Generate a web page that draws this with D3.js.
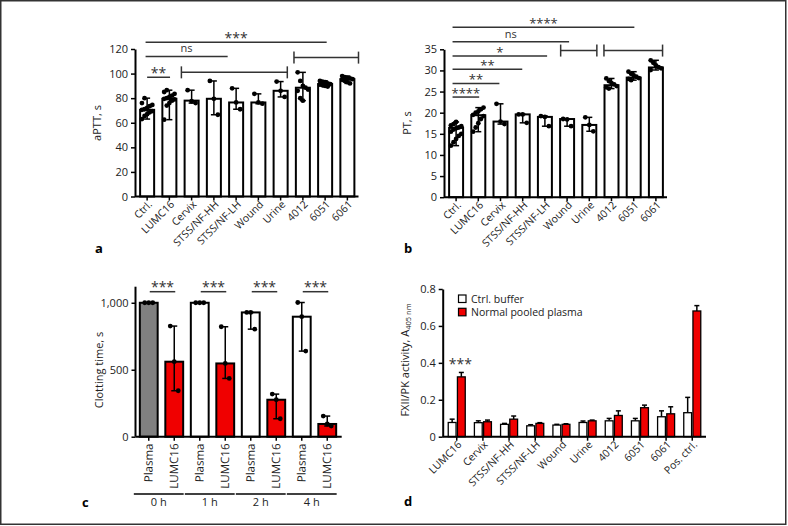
<!DOCTYPE html>
<html><head><meta charset="utf-8">
<script src="https://cdn.jsdelivr.net/npm/d3@7"></script>
<style>
body{margin:0;background:#fff;}
svg{display:block;font-family:"Open Sans",sans-serif;}
</style></head><body>
<svg id="fig" width="788" height="526"></svg>
<script>
// ---------- DATA ----------
const catsAB = ["Ctrl.","LUMC16","Cervix","STSS/NF-HH","STSS/NF-LH","Wound","Urine","4012","6051","6061"];
const apttMedian = [70.5, 79.5, 78, 79.5, 76.5, 76.5, 86, 88.5, 91.5, 95.5];
const apttPoints = [
  [63, 65.5, 67, 68.5, 69.5, 70.5, 71, 72, 73.5, 74.5, 76, 80],
  [62.5, 74, 76, 78, 79, 79.5, 80, 81, 82, 83.5, 85, 86.5],
  [86.5, 77.5, 76],
  [94, 79.5, 66.5],
  [88, 76.5, 71],
  [83.5, 76.5, 75.5],
  [93.5, 86, 81],
  [101, 94, 90, 88.5, 87, 86, 80, 78],
  [94, 93.5, 93, 92, 91.5, 91, 90.5, 90, 89.5],
  [98, 97, 96.5, 96, 95.5, 95, 94, 93, 92]
];
const apttTicks = [0, 20, 40, 60, 80, 100, 120];

const ptMedian = [16.4, 19.4, 17.9, 19.6, 19.0, 18.5, 17.1, 26.5, 28.3, 30.7];
const ptPoints = [
  [12.2, 13, 13.8, 14.5, 15, 15.5, 16, 16.3, 16.5, 16.8, 17, 17.3, 17.8],
  [15.5, 16.5, 17.5, 18.5, 19.2, 19.5, 20, 20.3, 20.8, 21.2],
  [22.1, 17.9, 17.3],
  [19.6, 19.6, 17.6],
  [19.2, 19.0, 16.8],
  [18.5, 18.4, 16.8],
  [18.9, 17.1, 15.6],
  [28.1, 27.5, 27, 26.7, 26.3, 26, 25.7],
  [29.7, 29.2, 28.8, 28.5, 28.2, 28, 27.7],
  [32.4, 31.8, 31.2, 30.8, 30.5, 30.1]
];
const ptTicks = [0, 5, 10, 15, 20, 25, 30, 35];

const clotCats = ["Plasma","LUMC16","Plasma","LUMC16","Plasma","LUMC16","Plasma","LUMC16"];
const clotGroups = ["0 h","1 h","2 h","4 h"];
const clotMedian = [1000, 560, 1000, 547, 928, 276, 896, 95];
const clotPoints = [
  [1000,1000,1000],[826,560,343],[1000,1000,1000],[821,547,435],
  [928,928,803],[318,276,134],[1002,896,639],[154,95,80]
];
const clotTicks = [0, 500, 1000];

const dCats = ["LUMC16","Cervix","STSS/NF-HH","STSS/NF-LH","Wound","Urine","4012","6051","6061","Pos. ctrl."];
const dSeries = ["Ctrl. buffer","Normal pooled plasma"];
const bufferMean = [0.077,0.076,0.067,0.059,0.063,0.077,0.086,0.086,0.108,0.130];
const bufferSD   = [0.018,0.010,0.005,0.006,0.004,0.008,0.013,0.013,0.032,0.083];
const plasmaMean = [0.324,0.081,0.095,0.072,0.067,0.086,0.115,0.157,0.124,0.681];
const plasmaSD   = [0.024,0.009,0.017,0.004,0.003,0.004,0.025,0.014,0.038,0.029];
const dTicks = [0, 0.2, 0.4, 0.6, 0.8];

// ---------- HELPERS ----------
const svg = d3.select("#fig");
const RED = "#f00000";
const TXT = "#222";
svg.append("rect").attr("x",0.75).attr("y",0.75).attr("width",785).attr("height",523.5)
  .attr("fill","none").attr("stroke","#333").attr("stroke-width",1.5);

function styleAxis(g, fs){
  g.select(".domain").attr("stroke","#000").attr("stroke-width",2);
  g.selectAll(".tick line").attr("stroke","#000").attr("stroke-width",1.5);
  g.selectAll(".tick text").attr("font-size",fs).attr("fill",TXT).attr("font-family","Open Sans");
}

function jitter(i, n){ // deterministic spread of points around the centre
  if (n <= 3) return (i - (n-1)/2) * 4;
  return ((i % 5) - 2) * 2.6;
}

function sigLine(g, x1, x2, y, label, caps, fs){
  g.append("line").attr("x1",x1).attr("x2",x2).attr("y1",y).attr("y2",y)
    .attr("stroke","#333").attr("stroke-width",1.5);
  if (caps){
    [x1,x2].forEach(x=>g.append("line").attr("x1",x).attr("x2",x).attr("y1",y-6).attr("y2",y+6)
      .attr("stroke","#333").attr("stroke-width",1.5));
  }
  if (label){
    const star = label.indexOf("*")>=0;
    g.append("text").attr("x",(x1+x2)/2).attr("y", star ? y+0.5 : y-4)
      .attr("text-anchor","middle").attr("font-size", star?(fs||14):11).attr("fill","#333").text(label);
  }
}

function rotatedLabels(g, cats, xs, y0, angle, fs, dx){
  cats.forEach((c,i)=>{
    const px = xs(i)+dx;
    g.append("g").attr("transform",`translate(${px},${y0}) rotate(${angle})`)
      .append("text").attr("x",0).attr("y",0)
      .attr("text-anchor","end").attr("dy","0.35em").attr("font-size",fs).attr("fill",TXT).text(c);
  });
}

function dotPanel(opt){
  const g = svg.append("g");
  const x = d3.scaleBand().domain(d3.range(opt.cats.length)).range(opt.xr).paddingInner(0.28).paddingOuter(0.14);
  const y = d3.scaleLinear().domain(opt.yd).range(opt.yr);
  g.selectAll("rect.bar").data(opt.median).join("rect")
    .attr("x",(d,i)=>x(i)+1).attr("width",x.bandwidth()-2)
    .attr("y",d=>y(d)).attr("height",d=>y(0)-y(d))
    .attr("fill","#fff").attr("stroke","#000").attr("stroke-width",2);
  opt.points.forEach((pts,i)=>{
    const cx = x(i)+x.bandwidth()/2;
    const lo = d3.min(pts), hi = d3.max(pts);
    g.append("line").attr("x1",cx).attr("x2",cx).attr("y1",y(lo)).attr("y2",y(hi)).attr("stroke","#000").attr("stroke-width",1.5);
    [lo,hi].forEach(v=>g.append("line").attr("x1",cx-3).attr("x2",cx+3).attr("y1",y(v)).attr("y2",y(v)).attr("stroke","#000").attr("stroke-width",1.5));
    pts.forEach((v,j)=>g.append("circle").attr("cx",cx+jitter(j,pts.length)).attr("cy",y(v)).attr("r",2.4).attr("fill","#000"));
  });
  const ya = g.append("g").attr("transform",`translate(${opt.xr[0]-1},0)`)
    .call(d3.axisLeft(y).tickValues(opt.ticks).tickSize(4).tickSizeOuter(0).tickPadding(3));
  styleAxis(ya, 11);
  const xa = g.append("g").attr("transform",`translate(0,${opt.yr[0]})`)
    .call(d3.axisBottom(x).tickSize(4).tickSizeOuter(0).tickFormat(""));
  xa.select(".domain").attr("d",`M${opt.xr[0]-1},0H${opt.xr[1]}`);
  styleAxis(xa, 10.5);
  rotatedLabels(g, opt.cats, i=>x(i)+x.bandwidth()/2, opt.yr[0]+6, -45, 10.5, 3);
  g.append("text").attr("transform",`translate(${opt.ylx},${opt.yly}) rotate(-90)`)
    .attr("text-anchor","middle").attr("font-size",11).attr("fill",TXT).text(opt.ylabel);
  const cx = i => x(0)+x.bandwidth()/2 + i*x.step();
  opt.sig.forEach(s=> sigLine(g, cx(s.a), cx(s.b), y(s.lvl), s.label, s.caps, opt.starSize));
  g.append("text").attr("x",opt.lx).attr("y",opt.ly).attr("font-size",13).attr("font-weight","bold").text(opt.letter);
}

// ---------- PANEL A ----------
dotPanel({cats:catsAB, median:apttMedian, points:apttPoints, ticks:apttTicks,
  xr:[136,358.5], yd:[0,120], yr:[196.5,49], ylabel:"aPTT, s", ylx:101, yly:123,
  letter:"a", lx:95, ly:253, starSize:14,
  sig:[
    {a:-0.07,b:8.07,lvl:125.4,label:"***"},
    {a:-0.07,b:3.62,lvl:114,label:"ns"},
    {a:0,b:1.03,lvl:97,label:"**"},
    {a:1.54,b:6.3,lvl:101,label:"",caps:true},
    {a:6.6,b:9.5,lvl:113,label:"",caps:true}
  ]});

// ---------- PANEL B ----------
dotPanel({cats:catsAB, median:ptMedian, points:ptPoints, ticks:ptTicks,
  xr:[445,667], yd:[0,35], yr:[197.2,49.3], ylabel:"PT, s", ylx:411, yly:123,
  letter:"b", lx:404, ly:253, starSize:13,
  sig:[
    {a:-0.16,b:8.03,lvl:40.2,label:"****"},
    {a:-0.16,b:5.09,lvl:36.8,label:"ns"},
    {a:-0.16,b:4.1,lvl:33.4,label:"*"},
    {a:-0.16,b:2.98,lvl:30.3,label:"**"},
    {a:-0.16,b:1.95,lvl:26.9,label:"**"},
    {a:-0.16,b:1.04,lvl:23.7,label:"****"},
    {a:4.71,b:6.34,lvl:34.7,label:"",caps:true},
    {a:6.66,b:9.3,lvl:34.7,label:"",caps:true}
  ]});

// ---------- PANEL C ----------
(function(){
  const g = svg.append("g");
  const x = d3.scaleBand().domain(d3.range(clotCats.length)).range([136,340]).paddingInner(0.3).paddingOuter(0.15);
  const y = d3.scaleLinear().domain([0,1120]).range([436.7,286.7]);
  const fills = clotCats.map((c,i)=> i===0 ? "#808080" : (c==="LUMC16" ? RED : "#fff"));
  g.selectAll("rect").data(clotMedian).join("rect")
    .attr("x",(d,i)=>x(i)).attr("width",x.bandwidth())
    .attr("y",d=>y(d)).attr("height",d=>y(0)-y(d))
    .attr("fill",(d,i)=>fills[i]).attr("stroke","#000").attr("stroke-width",2);
  clotPoints.forEach((pts,i)=>{
    const cx = x(i)+x.bandwidth()/2;
    const lo=d3.min(pts), hi=d3.max(pts);
    g.append("line").attr("x1",cx).attr("x2",cx).attr("y1",y(lo)).attr("y2",y(hi)).attr("stroke","#000").attr("stroke-width",1.5);
    [lo,hi].forEach(v=>g.append("line").attr("x1",cx-3).attr("x2",cx+3).attr("y1",y(v)).attr("y2",y(v)).attr("stroke","#000").attr("stroke-width",1.5));
    pts.forEach((v,j)=>g.append("circle").attr("cx",cx+(j-1)*4).attr("cy",y(v)).attr("r",2.4).attr("fill","#000"));
  });
  const ya = g.append("g").attr("transform","translate(135.5,0)")
    .call(d3.axisLeft(y).tickValues(clotTicks).tickFormat(d3.format(",")).tickSize(4).tickSizeOuter(0).tickPadding(3));
  ya.select(".domain").attr("d","M0,286.7V436.7");
  styleAxis(ya, 11);
  const xa = g.append("g").attr("transform","translate(0,436.7)")
    .call(d3.axisBottom(x).tickSize(4).tickSizeOuter(0).tickFormat(""));
  xa.select(".domain").attr("d","M135.5,0H341.7");
  styleAxis(xa, 11);
  rotatedLabels(g, clotCats, i=>x(i)+x.bandwidth()/2, 443.5, -89.5, 11.5, 0);
  g.append("text").attr("transform","translate(103,370) rotate(-90)")
    .attr("text-anchor","middle").attr("font-size",11).attr("fill",TXT).text("Clotting time, s");
  clotGroups.forEach((lab,k)=>{
    const x1 = x(2*k)-6, x2 = x(2*k+1)+x.bandwidth()+0.5;
    g.append("line").attr("x1",x1).attr("x2",x2).attr("y1",494).attr("y2",494).attr("stroke","#000").attr("stroke-width",1.5);
    g.append("text").attr("x",(x1+x2)/2).attr("y",506).attr("text-anchor","middle").attr("font-size",11).attr("fill",TXT).text(lab);
    const c1 = x(2*k)+x.bandwidth()/2+1, c2 = x(2*k+1)+x.bandwidth()/2+1;
    sigLine(g, c1, c2, 291.7, "***", false, 14);
  });
  g.append("text").attr("x",82).attr("y",507).attr("font-size",13).attr("font-weight","bold").text("c");
})();

// ---------- PANEL D ----------
(function(){
  const g = svg.append("g");
  const x0 = d3.scaleBand().domain(d3.range(dCats.length)).range([443,706]).paddingInner(0.35).paddingOuter(0.2);
  const x1 = d3.scaleBand().domain([0,1]).range([0,x0.bandwidth()]).paddingInner(0.15);
  const y = d3.scaleLinear().domain([0,0.8]).range([436.7,289]);
  const series = [{m:bufferMean, s:bufferSD, fill:"#fff"},{m:plasmaMean, s:plasmaSD, fill:RED}];
  series.forEach((ser,k)=>{
    ser.m.forEach((v,i)=>{
      const bx = x0(i)+x1(k), bw = x1.bandwidth(), cx = bx+bw/2;
      const top = y(v+ser.s[i]);
      g.append("line").attr("x1",cx).attr("x2",cx).attr("y1",y(v)).attr("y2",top).attr("stroke","#000").attr("stroke-width",1.5);
      g.append("line").attr("x1",cx-2.5).attr("x2",cx+2.5).attr("y1",top).attr("y2",top).attr("stroke","#000").attr("stroke-width",1.5);
      g.append("rect").attr("x",bx).attr("width",bw).attr("y",y(v)).attr("height",y(0)-y(v))
        .attr("fill",ser.fill).attr("stroke","#000").attr("stroke-width",1.3);
    });
  });
  const ya = g.append("g").attr("transform","translate(442.7,0)")
    .call(d3.axisLeft(y).tickValues(dTicks).tickFormat(d3.format("~g")).tickSize(4).tickSizeOuter(0).tickPadding(3));
  styleAxis(ya, 11);
  const xa = g.append("g").attr("transform","translate(0,436.7)")
    .call(d3.axisBottom(x0).tickSize(4).tickSizeOuter(0).tickFormat(""));
  xa.select(".domain").attr("d","M442.7,0H706");
  styleAxis(xa, 10.5);
  rotatedLabels(g, dCats, i=>x0(i)+x0.bandwidth()/2, 442.7, -45, 10.5, 3);
  const yl = g.append("text").attr("transform","translate(409,360) rotate(-90)")
    .attr("text-anchor","middle").attr("font-size",11).attr("fill",TXT);
  yl.append("tspan").text("FXII/PK activity, A");
  yl.append("tspan").attr("font-size",7.5).attr("dy",2).text("405 nm");
  g.append("text").attr("x",x0(0)+x1(1)+x1.bandwidth()/2-1).attr("y",369).attr("text-anchor","middle")
    .attr("font-size",14).attr("fill","#333").text("***");
  dSeries.forEach((lab,k)=>{
    g.append("rect").attr("x",458.5).attr("y",295+k*13.3).attr("width",7.5).attr("height",7.5)
      .attr("fill",k?RED:"#fff").attr("stroke","#000").attr("stroke-width",1.2);
    g.append("text").attr("x",471).attr("y",302.8+k*13.3).attr("font-size",10.5).attr("fill",TXT).text(lab);
  });
  g.append("text").attr("x",404).attr("y",506).attr("font-size",13).attr("font-weight","bold").text("d");
})();
</script>
</body></html>
